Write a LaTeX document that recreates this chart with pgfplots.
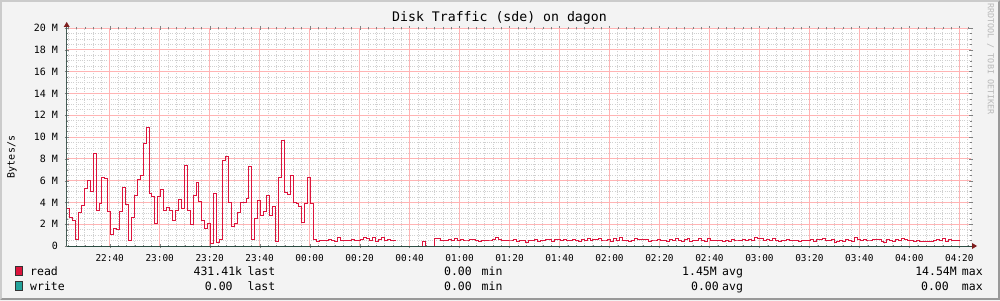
\documentclass[border=0pt]{standalone}
\usepackage{fontspec}
\setmainfont{DejaVu Sans Mono}
\usepackage{pgfplots}
\pgfplotsset{compat=1.18}
\usepackage{pgfplotstable}
\definecolor{bg}{HTML}{F3F3F3}
\definecolor{shadeA}{HTML}{CBCBCB}
\definecolor{shadeB}{HTML}{999999}
\definecolor{readc}{HTML}{DC143C}
\definecolor{writec}{HTML}{24A39B}
\definecolor{axisc}{HTML}{2C4D43}
\definecolor{arrowc}{HTML}{7F1F1F}
\definecolor{mgridc}{HTML}{FFB4B4}
\definecolor{ngridc}{HTML}{D0D0D0}
\definecolor{credit}{HTML}{B8B8B8}

\pgfplotstableread{
v
3.4
2.6
2.3
0.6
3.1
3.7
5.3
6.0
5.0
8.5
3.3
3.9
6.3
6.2
3.2
1.1
1.6
1.5
3.2
5.4
3.8
0.5
2.6
4.6
6.1
6.5
9.4
10.9
4.8
4.5
2.1
4.5
5.2
3.3
3.5
3.3
2.3
3.3
4.3
3.4
7.4
3.3
2.0
4.6
5.8
4.1
2.3
1.6
2.1
0.25
4.8
0.35
0.6
7.8
8.2
4.0
1.8
2.1
3.1
4.0
4.0
4.4
7.3
0.6
2.5
4.2
2.8
3.2
4.6
2.8
3.6
0.45
6.3
9.7
4.9
4.7
6.5
4.0
3.9
3.6
2.2
3.9
6.3
3.9
0.6
0.45
0.5
0.55
0.5
0.6
0.5
0.45
0.75
0.5
0.55
0.5
0.55
0.6
0.55
0.5
0.6
0.8
0.7
0.5
0.75
0.45
0.6
0.8
0.55
0.6
0.55
0.5
0.5
nan
nan
nan
nan
nan
nan
nan
0
0.37
0
0
0
0.67
0.65
0.5
0.5
0.55
0.6
0.5
0.7
0.55
0.6
0.55
0.55
0.6
0.6
0.5
0.4
0.5
0.5
0.55
0.55
0.6
0.75
0.6
0.55
0.5
0.55
0.55
0.6
0.45
0.5
0.5
0.3
0.5
0.55
0.6
0.45
0.55
0.5
0.6
0.6
0.45
0.6
0.6
0.5
0.6
0.5
0.55
0.6
0.55
0.45
0.6
0.55
0.7
0.5
0.6
0.6
0.65
0.55
0.55
0.6
0.45
0.7
0.5
0.8
0.5
0.55
0.45
0.5
0.65
0.6
0.6
0.6
0.6
0.45
0.55
0.55
0.6
0.5
0.55
0.4
0.6
0.55
0.7
0.5
0.4
0.6
0.7
0.45
0.55
0.5
0.65
0.55
0.45
0.7
0.55
0.5
0.5
0.55
0.45
0.55
0.4
0.6
0.55
0.55
0.5
0.6
0.55
0.6
0.5
0.8
0.7
0.65
0.55
0.6
0.5
0.7
0.5
0.45
0.5
0.5
0.6
0.55
0.5
0.55
0.45
0.5
0.55
0.5
0.6
0.45
0.6
0.6
0.7
0.55
0.5
0.6
0.35
0.45
0.55
0.45
0.6
0.5
0.4
0.8
0.6
0.5
0.6
0.55
0.55
0.6
0.6
0.6
0.45
0.35
0.6
0.55
0.45
0.6
0.5
0.7
0.6
0.5
0.5
0.45
0.5
0.45
0.45
0.45
0.45
0.45
0.5
0.6
0.5
0.7
0.45
0.6
0.5
0.5
0.55
0.55
}\readdata

\begin{document}
\begin{tikzpicture}
% axis box lower-left is the origin; page spans (-66.7pt,-54pt) to (933.3pt,246pt)
\begin{scope}[shift={(-66.7pt,-54pt)}]
\fill[bg] (0pt,0pt) rectangle (1000pt,300pt);
\fill[shadeA] (0pt,0pt) -- (0pt,300pt) -- (1000pt,300pt) -- (998pt,298pt) -- (2pt,298pt) -- (2pt,2pt) -- cycle;
\fill[shadeB] (1000pt,300pt) -- (1000pt,0pt) -- (0pt,0pt) -- (2pt,2pt) -- (998pt,2pt) -- (998pt,298pt) -- cycle;
\end{scope}

\begin{axis}[
  at={(0pt,0pt)}, anchor=south west,
  scale only axis, width=904.3pt, height=218pt,
  xmin=0, xmax=307.6, ymin=0, ymax=20,
  axis background/.style={fill=white},
  axis line style={draw=none},
  clip=false,
  xtick={14.63,31.63,48.63,65.63,82.63,99.63,116.63,133.63,150.63,167.63,184.63,201.63,218.63,235.63,252.63,269.63,286.63,303.63},
  xticklabels={22:40,23:00,23:20,23:40,00:00,00:20,00:40,01:00,01:20,01:40,02:00,02:20,02:40,03:00,03:20,03:40,04:00,04:20},
  minor xtick={0.463,3.297,6.130,8.963,11.797,
    17.46,20.30,23.13,25.96,28.80, 34.46,37.30,40.13,42.96,45.80,
    51.46,54.30,57.13,59.96,62.80, 68.46,71.30,74.13,76.96,79.80,
    85.46,88.30,91.13,93.96,96.80, 102.46,105.30,108.13,110.96,113.80,
    119.46,122.30,125.13,127.96,130.80, 136.46,139.30,142.13,144.96,147.80,
    153.46,156.30,159.13,161.96,164.80, 170.46,173.30,176.13,178.96,181.80,
    187.46,190.30,193.13,195.96,198.80, 204.46,207.30,210.13,212.96,215.80,
    221.46,224.30,227.13,229.96,232.80, 238.46,241.30,244.13,246.96,249.80,
    255.46,258.30,261.13,263.96,266.80, 272.46,275.30,278.13,280.96,283.80,
    289.46,292.30,295.13,297.96,300.80, 306.46},
  ytick={0,2,...,20},
  yticklabels={0,2 M,4 M,6 M,8 M,10 M,12 M,14 M,16 M,18 M,20 M},
  minor y tick num=3,
  xmajorgrids=false, ymajorgrids=true, xminorgrids=true, yminorgrids=true,
  major grid style={draw=mgridc, line width=0.9pt, solid},
  minor grid style={draw=ngridc, line width=0.7pt, dash pattern=on 1pt off 1.2pt},
  major tick length=4pt, minor tick length=2pt,
  tick align=center,
  xticklabel style={font=\fontsize{9.4}{10}\selectfont, anchor=center, inner sep=0pt, yshift=-10pt},
  yticklabel style={font=\fontsize{10}{11}\selectfont, anchor=east, inner sep=0pt, xshift=-6.5pt},
  unbounded coords=jump,
]
\pgfplotsinvokeforeach{14.63,31.63,48.63,65.63,82.63,99.63,116.63,133.63,150.63,167.63,184.63,201.63,218.63,235.63,252.63,269.63,286.63,303.63}{
  \draw[draw=mgridc, line width=0.9pt] (axis cs:#1,0) -- (axis cs:#1,20);
}
\addplot[readc, line width=1pt, const plot, mark=none] table[x expr=\coordindex, y=v] {\readdata};
\addplot[writec, line width=1pt, const plot, mark=none] coordinates {(0,0) (304,0)};
\draw[axisc, line width=1pt] (rel axis cs:0,0) -- ([xshift=2pt]rel axis cs:1,0);
\draw[axisc!70!gray, line width=1pt] (rel axis cs:0,0) -- ([yshift=2pt]rel axis cs:0,1);
\fill[arrowc] ([xshift=1pt,yshift=3pt]rel axis cs:1,0) -- ([xshift=6pt]rel axis cs:1,0) -- ([xshift=1pt,yshift=-3pt]rel axis cs:1,0) -- cycle;
\fill[arrowc] ([xshift=-3pt,yshift=1pt]rel axis cs:0,1) -- ([yshift=6pt]rel axis cs:0,1) -- ([xshift=3pt,yshift=1pt]rel axis cs:0,1) -- cycle;
\end{axis}

\begin{scope}[shift={(-66.7pt,-54pt)}]
\node[font=\fontsize{13.2}{14}\selectfont] at (499.5pt,282pt) {Disk Traffic (sde) on dagon};
\node[rotate=90, font=\fontsize{10}{11}\selectfont] at (12pt,143pt) {Bytes/s};
\node[rotate=-90, text=credit, font=\fontsize{8.4}{10}\selectfont] at (990.5pt,241pt) {RRDTOOL / TOBI OETIKER};
\begin{scope}[every node/.style={font=\fontsize{11.5}{12}\selectfont, inner sep=0pt}]
\filldraw[fill=readc, draw=black!80, line width=0.6pt] (15.5pt,24.5pt) rectangle (22.5pt,33.5pt);
\filldraw[fill=writec, draw=black!80, line width=0.6pt] (15.5pt,9.5pt) rectangle (22.5pt,18.5pt);
\node[anchor=base west] at (30pt,25pt) {read};
\node[anchor=base east] at (242.3pt,25pt) {431.41k};
\node[anchor=base west] at (247.4pt,25pt) {last};
\node[anchor=base east] at (472pt,25pt) {0.00};
\node[anchor=base west] at (481.5pt,25pt) {min};
\node[anchor=base east] at (717pt,25pt) {1.45M};
\node[anchor=base west] at (722pt,25pt) {avg};
\node[anchor=base east] at (957pt,25pt) {14.54M};
\node[anchor=base west] at (961.7pt,25pt) {max};
\node[anchor=base west] at (30pt,10pt) {write};
\node[anchor=base east] at (232.8pt,10pt) {0.00};
\node[anchor=base west] at (247.4pt,10pt) {last};
\node[anchor=base east] at (472pt,10pt) {0.00};
\node[anchor=base west] at (481.5pt,10pt) {min};
\node[anchor=base east] at (719pt,10pt) {0.00};
\node[anchor=base west] at (722pt,10pt) {avg};
\node[anchor=base east] at (949pt,10pt) {0.00};
\node[anchor=base west] at (961.7pt,10pt) {max};
\end{scope}
\end{scope}
\pgfresetboundingbox
\path[use as bounding box] (-66.7pt,-54pt) rectangle (933.3pt,246pt);
\end{tikzpicture}
\end{document}
